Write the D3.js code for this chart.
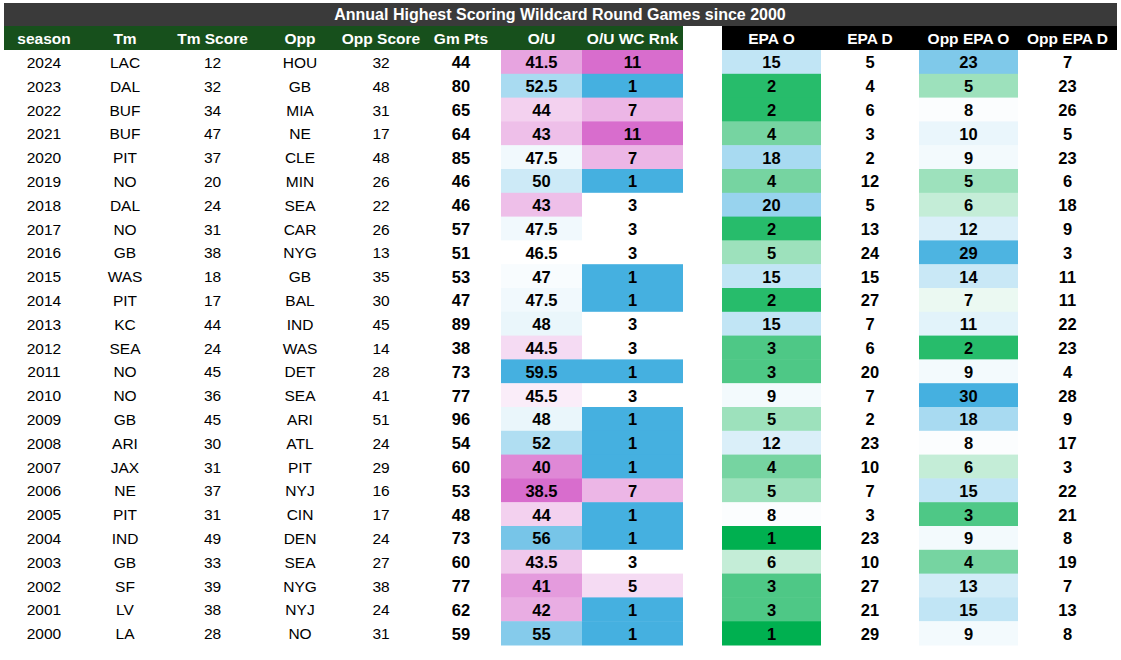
<!DOCTYPE html>
<html>
<head>
<meta charset="utf-8">
<script src="https://cdn.jsdelivr.net/npm/d3@7"></script>
<style>
	body { margin: 0; background: #fff; }
	svg text { font-family: "Liberation Sans", Arial, sans-serif; }
</style>
</head>
<body>
<svg id="table" width="1121" height="660"></svg>
<script>
// ---- data ----
const title = "Annual Highest Scoring Wildcard Round Games since 2000";
const seasons  = [2024,2023,2022,2021,2020,2019,2018,2017,2016,2015,2014,2013,2012,2011,2010,2009,2008,2007,2006,2005,2004,2003,2002,2001,2000];
const teams    = ["LAC","DAL","BUF","BUF","PIT","NO","DAL","NO","GB","WAS","PIT","KC","SEA","NO","NO","GB","ARI","JAX","NE","PIT","IND","GB","SF","LV","LA"];
const tmScore  = [12,32,34,47,37,20,24,31,38,18,17,44,24,45,36,45,30,31,37,31,49,33,39,38,28];
const opps     = ["HOU","GB","MIA","NE","CLE","MIN","SEA","CAR","NYG","GB","BAL","IND","WAS","DET","SEA","ARI","ATL","PIT","NYJ","CIN","DEN","SEA","NYG","NYJ","NO"];
const oppScore = [32,48,31,17,48,26,22,26,13,35,30,45,14,28,41,51,24,29,16,17,24,27,38,24,31];
const gmPts    = [44,80,65,64,85,46,46,57,51,53,47,89,38,73,77,96,54,60,53,48,73,60,77,62,59];
const overUnder= [41.5,52.5,44,43,47.5,50,43,47.5,46.5,47,47.5,48,44.5,59.5,45.5,48,52,40,38.5,44,56,43.5,41,42,55];
const ouRank   = [11,1,7,11,7,1,3,3,3,1,1,3,3,1,3,1,1,1,7,1,1,3,5,1,1];
const epaO     = [15,2,2,4,18,4,20,2,5,15,2,15,3,3,9,5,12,4,5,8,1,6,3,3,1];
const epaD     = [5,4,6,3,2,12,5,13,24,15,27,7,6,20,7,2,23,10,7,3,23,10,27,21,29];
const oppEpaO  = [23,5,8,10,9,5,6,12,29,14,7,11,2,9,30,18,8,6,15,3,9,4,13,15,9];
const oppEpaD  = [7,23,26,5,23,6,18,9,3,11,11,22,23,4,28,9,17,3,22,21,8,19,7,13,8];

const headersLeft  = ["season","Tm","Tm Score","Opp","Opp Score","Gm Pts","O/U","O/U WC Rnk"];
const headersRight = ["EPA O","EPA D","Opp EPA O","Opp EPA D"];

// colours
const PINK = "#d86dcd", BLUE = "#45b0e0", GREEN = "#00b050";

const svg = d3.select('#table');

// column edges [x0, x1]
const cols = [
	{ key:"season",   vals:seasons,   x0:4,   x1:84,   bold:false },
	{ key:"Tm",       vals:teams,     x0:84,  x1:166,  bold:false },
	{ key:"Tm Score", vals:tmScore,   x0:166, x1:259,  bold:false },
	{ key:"Opp",      vals:opps,      x0:259, x1:341,  bold:false },
	{ key:"Opp Score",vals:oppScore,  x0:341, x1:421,  bold:false },
	{ key:"Gm Pts",   vals:gmPts,     x0:421, x1:501,  bold:true },
	{ key:"O/U",      vals:overUnder, x0:501, x1:582,  bold:true },
	{ key:"O/U WC Rnk",vals:ouRank,   x0:582, x1:683,  bold:true },
	{ key:"EPA O",    vals:epaO,      x0:722, x1:821,  bold:true },
	{ key:"EPA D",    vals:epaD,      x0:821, x1:919,  bold:true },
	{ key:"Opp EPA O",vals:oppEpaO,   x0:919, x1:1018, bold:true },
	{ key:"Opp EPA D",vals:oppEpaD,   x0:1018,x1:1117, bold:true }
];

// conditional formatting scales (3-colour, midpoint = median)
const ouScale = d3.scaleLinear()
	.domain([d3.min(overUnder), d3.median(overUnder), d3.max(overUnder)])
	.range([PINK, "#ffffff", BLUE]);
const rnkScale = d3.scaleLinear()
	.domain([d3.min(ouRank), d3.median(ouRank), d3.max(ouRank)])
	.range([BLUE, "#ffffff", PINK]);
const epaAll = epaO.concat(oppEpaO);
const epaScale = d3.scaleLinear()
	.domain([d3.min(epaAll), d3.median(epaAll), d3.max(epaAll)])
	.range([GREEN, "#ffffff", BLUE]);
const fills = { "O/U":ouScale, "O/U WC Rnk":rnkScale, "EPA O":epaScale, "Opp EPA O":epaScale };

// rows
const y = d3.scaleBand().domain(seasons).range([50, 645]);

//title bar
svg.append("rect").attr("x", 4).attr("y", 3).attr("width", 1113).attr("height", 23).attr("fill", "#3a3a3a");
svg.append("text")
	.attr("x", 560).attr("y", 14.5)
	.attr("text-anchor", "middle").attr("dominant-baseline", "central")
	.attr("font-size", 16).attr("font-weight", "bold").attr("fill", "#fff")
	.text(title);

//header bars
svg.append("rect").attr("x", 4).attr("y", 26).attr("width", 679).attr("height", 24).attr("fill", "#17501c");
svg.append("rect").attr("x", 722).attr("y", 26).attr("width", 395).attr("height", 24).attr("fill", "#000");

const headers = headersLeft.concat(headersRight);
cols.forEach((c, i) => {
	const cx = (c.x0 + c.x1) / 2;
	svg.append("text")
		.attr("x", cx).attr("y", 38.5)
		.attr("text-anchor", "middle").attr("dominant-baseline", "central")
		.attr("font-size", 15.5).attr("font-weight", "bold").attr("fill", "#fff")
		.text(headers[i]);

	const g = svg.append("g");
	const sc = fills[c.key];
	if (sc) {
		g.selectAll("rect").data(c.vals).join("rect")
			.attr("x", c.x0)
			.attr("y", (d, j) => y(seasons[j]))
			.attr("width", c.x1 - c.x0)
			.attr("height", y.bandwidth() + 0.5)
			.attr("fill", d => sc(d));
	}
	g.selectAll("text").data(c.vals).join("text")
		.attr("x", cx)
		.attr("y", (d, j) => y(seasons[j]) + y.bandwidth() / 2 + 0.5)
		.attr("text-anchor", "middle").attr("dominant-baseline", "central")
		.attr("font-size", c.bold ? 16.5 : 15.5)
		.attr("font-weight", c.bold ? "bold" : "normal")
		.attr("fill", "#000")
		.text(d => d);
});
</script>
</body>
</html>
